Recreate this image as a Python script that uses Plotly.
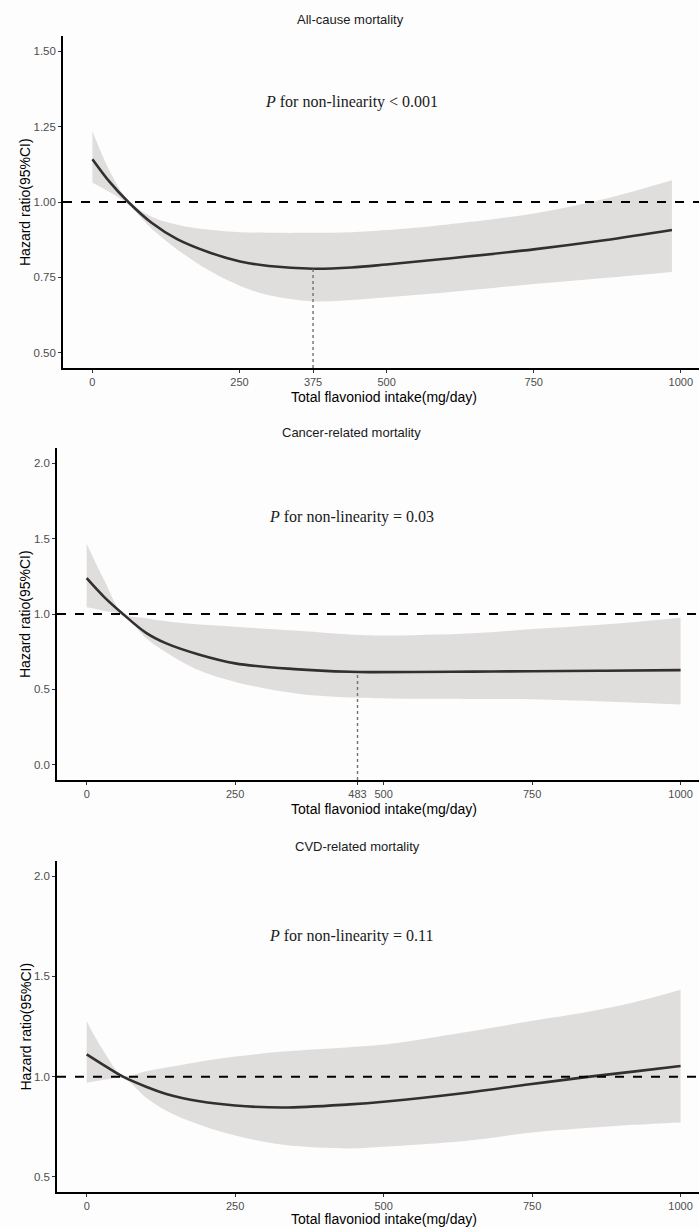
import plotly.graph_objects as go

W, H = 699, 1227

# ---------------- data ----------------
titles = ["All-cause mortality", "Cancer-related mortality", "CVD-related mortality"]
p_texts = ["<i>P</i> for non-linearity < 0.001",
           "<i>P</i> for non-linearity = 0.03",
           "<i>P</i> for non-linearity = 0.11"]

x_all = [0, 30, 61, 100, 144, 200, 251, 300, 375, 440, 500, 600, 750, 870, 985]
hr_all = [1.142, 1.065, 1.0, 0.932, 0.877, 0.832, 0.803, 0.788, 0.779, 0.783, 0.793, 0.812, 0.843, 0.873, 0.907]
up_all = [1.234, 1.10, 1.004, 0.952, 0.925, 0.908, 0.90, 0.898, 0.898, 0.90, 0.907, 0.925, 0.962, 1.01, 1.072]
lo_all = [1.064, 1.032, 0.992, 0.913, 0.843, 0.771, 0.722, 0.691, 0.671, 0.675, 0.684, 0.70, 0.728, 0.748, 0.768]

x_can = [0, 30, 61, 100, 134, 190, 250, 350, 443, 483, 550, 650, 750, 870, 1000]
hr_can = [1.237, 1.11, 1.0, 0.875, 0.805, 0.73, 0.673, 0.635, 0.617, 0.615, 0.616, 0.618, 0.621, 0.624, 0.628]
up_can = [1.465, 1.22, 1.005, 0.972, 0.952, 0.93, 0.916, 0.89, 0.864, 0.858, 0.86, 0.872, 0.90, 0.93, 0.975]
lo_can = [1.044, 1.02, 0.993, 0.84, 0.745, 0.625, 0.55, 0.475, 0.446, 0.442, 0.438, 0.437, 0.435, 0.42, 0.40]

x_cvd = [0, 30, 61, 100, 134, 190, 250, 331, 443, 500, 640, 746, 847, 920, 1000]
hr_cvd = [1.111, 1.055, 1.0, 0.95, 0.914, 0.877, 0.856, 0.846, 0.862, 0.875, 0.92, 0.962, 1.0, 1.025, 1.053]
up_cvd = [1.276, 1.12, 1.005, 1.027, 1.045, 1.074, 1.10, 1.125, 1.147, 1.16, 1.223, 1.276, 1.325, 1.37, 1.433]
lo_cvd = [0.97, 0.985, 0.993, 0.895, 0.83, 0.76, 0.707, 0.66, 0.642, 0.65, 0.68, 0.72, 0.745, 0.76, 0.772]

# turning points marked with dotted lines: (position on axis as drawn, HR, label)
turn_points = [(375, 0.779, "375"), (456, 0.616, "483"), None]

xtick_vals = [[0, 250, 375, 500, 750, 1000],
              [0, 250, 456, 500, 750, 1000],
              [0, 250, 500, 750, 1000]]
xtick_text = [["0", "250", "375", "500", "750", "1000"],
              ["0", "250", "483", "500", "750", "1000"],
              ["0", "250", "500", "750", "1000"]]
ytick_vals = [[0.50, 0.75, 1.00, 1.25, 1.50],
              [0.0, 0.5, 1.0, 1.5, 2.0],
              [0.5, 1.0, 1.5, 2.0]]
ytick_fmt = [".2f", ".1f", ".1f"]
y_ranges = [[0.45, 1.55], [-0.1, 2.1], [0.425, 2.075]]
p_text_y = [1.33, 1.64, 1.70]

# ---------------- layout geometry (pixels) ----------------
panel_left = [63, 57, 57]
panel_top = [36, 448, 861]
panel_bottom = [368, 780, 1192]
title_y = [20, 432, 846]
title_x = [350, 351, 357]
xtitle_y = [397, 809, 1219]
xrange = [-50, 1031]

series = [(x_all, hr_all, up_all, lo_all),
          (x_can, hr_can, up_can, lo_can),
          (x_cvd, hr_cvd, up_cvd, lo_cvd)]

fig = go.Figure()
FONT = "Liberation Sans, Arial, sans-serif"
SERIF = "Liberation Serif, Times New Roman, serif"
annotations = []
shapes = []

for i in range(3):
    xs, hr, up, lo = series[i]
    xa = "x" if i == 0 else f"x{i+1}"
    ya = "y" if i == 0 else f"y{i+1}"
    fig.add_trace(go.Scatter(x=xs, y=up, mode="lines", line=dict(width=0, shape="spline", smoothing=1.0),
                             xaxis=xa, yaxis=ya, showlegend=False, hoverinfo="skip"))
    fig.add_trace(go.Scatter(x=xs, y=lo, mode="lines", line=dict(width=0, shape="spline", smoothing=1.0),
                             fill="tonexty", fillcolor="#e0dddd",
                             xaxis=xa, yaxis=ya, showlegend=False, hoverinfo="skip"))
    fig.add_trace(go.Scatter(x=xs, y=hr, mode="lines", line=dict(width=2.6, color="#332f2e", shape="spline", smoothing=1.0),
                             xaxis=xa, yaxis=ya, showlegend=False))
    # reference line HR = 1
    shapes.append(dict(type="line", xref=f"{xa} domain", yref=ya, x0=0, x1=1, y0=1, y1=1,
                       line=dict(color="black", width=2, dash="dash")))
    tp = turn_points[i]
    if tp is not None:
        fig.add_trace(go.Scatter(x=[tp[0], tp[0]], y=[y_ranges[i][0], tp[1]], mode="lines",
                                 line=dict(color="#707070", width=1.4, dash="dot"),
                                 xaxis=xa, yaxis=ya, showlegend=False, hoverinfo="skip"))

    dom_x = [panel_left[i] / W, 1.0]
    dom_y = [1 - panel_bottom[i] / H, 1 - panel_top[i] / H]
    xkey = "xaxis" if i == 0 else f"xaxis{i+1}"
    ykey = "yaxis" if i == 0 else f"yaxis{i+1}"
    fig.update_layout(**{
        xkey: dict(domain=dom_x, anchor=ya, range=xrange, showgrid=False, zeroline=False,
                   showline=True, linecolor="black", linewidth=1.6, ticks="outside", ticklen=3,
                   tickcolor="#333333", tickwidth=1.1, tickvals=xtick_vals[i], tickangle=0,
                   ticktext=xtick_text[i],
                   tickfont=dict(family=FONT, size=11, color="#4d4d4d")),
        ykey: dict(domain=dom_y, anchor=xa, range=y_ranges[i], showgrid=False, zeroline=False,
                   showline=True, linecolor="black", linewidth=1.6, ticks="outside", ticklen=3,
                   tickcolor="#333333", tickwidth=1.1, tickvals=ytick_vals[i], tickformat=ytick_fmt[i],
                   tickfont=dict(family=FONT, size=11.5, color="#4d4d4d")),
    })
    # panel title
    annotations.append(dict(text=titles[i], x=title_x[i] / W, y=1 - title_y[i] / H, xref="paper", yref="paper",
                            showarrow=False, xanchor="center", yanchor="middle",
                            font=dict(family=FONT, size=13, color="#1a1a1a")))
    # x-axis title
    annotations.append(dict(text="Total flavoniod intake(mg/day)", x=384 / W, y=1 - xtitle_y[i] / H,
                            xref="paper", yref="paper", showarrow=False, xanchor="center", yanchor="middle",
                            font=dict(family=FONT, size=14, color="black")))
    # y-axis title
    annotations.append(dict(text="Hazard ratio(95%CI)", x=25 / W,
                            y=1 - (panel_top[i] + panel_bottom[i]) / 2 / H,
                            xref="paper", yref="paper", showarrow=False, textangle=-90,
                            xanchor="center", yanchor="middle",
                            font=dict(family=FONT, size=14, color="black")))
    # P for non-linearity
    annotations.append(dict(text=p_texts[i], x=351 / W, y=p_text_y[i], xref="paper", yref=ya,
                            showarrow=False, xanchor="center", yanchor="middle",
                            font=dict(family=SERIF, size=16, color="#1a1a1a")))

fig.update_layout(width=W, height=H, margin=dict(l=0, r=0, t=0, b=0),
                  paper_bgcolor="#fdfdfd", plot_bgcolor="#fdfdfd",
                  annotations=annotations, shapes=shapes, showlegend=False)

fig.write_html("out.html")
